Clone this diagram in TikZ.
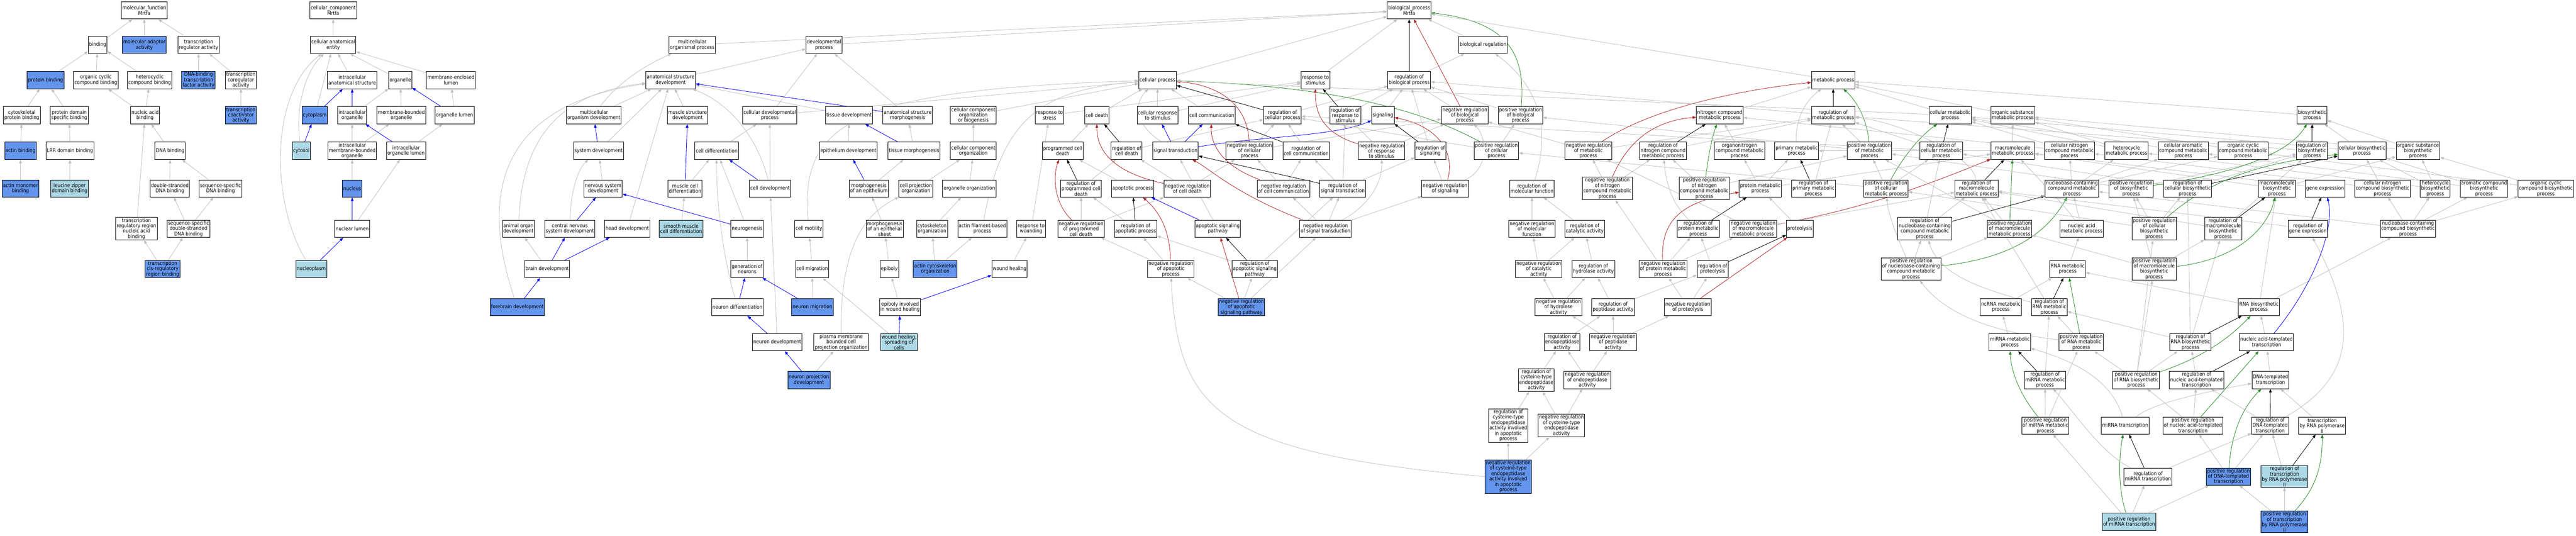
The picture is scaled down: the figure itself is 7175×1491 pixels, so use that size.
\documentclass[tikz,border=0pt]{standalone}
\usepackage{fontspec}
\setmainfont{DejaVu Sans}[FakeStretch=0.88]
\usetikzlibrary{arrows.meta,backgrounds}
\definecolor{edgegray}{RGB}{192,192,192}
\definecolor{cfblue}{RGB}{100,149,237}
\definecolor{ltblue}{RGB}{173,216,230}
\definecolor{fbred}{RGB}{178,34,34}
\definecolor{fgreen}{RGB}{34,139,34}
\tikzset{
  gobox/.style={draw=black, line width=1.4pt, fill=white, align=center, inner xsep=2.5pt, inner ysep=2pt, minimum height=48pt, font=\fontsize{14.5}{15}\selectfont},
  gohit/.style={gobox, fill=cfblue},
  golight/.style={gobox, fill=ltblue},
  edgebase/.style={line width=1.2pt, -{Triangle[length=10pt,width=7.5pt]}},
  eg/.style={edgebase, draw=edgegray},
  eb/.style={edgebase, draw=blue},
  er/.style={edgebase, draw=fbred},
  egr/.style={edgebase, draw=fgreen},
  ek/.style={edgebase, draw=black}
}
\begin{document}
\begin{tikzpicture}[x=1pt,y=-1pt]
\useasboundingbox (0,0) rectangle (7175,1491);
% ---------------- molecular function
\node[gobox] (mf) at (402,29) {molecular\_function\\Mrtfa};
\node[gobox] (binding) at (272,125) {binding};
\node[gohit] (mad) at (402,125) {molecular adaptor\\activity};
\node[gobox] (tra) at (553,125) {transcription\\regulator activity};
\node[gohit] (pbind) at (127,223) {protein binding};
\node[gobox] (occb) at (267,223) {organic cyclic\\compound binding};
\node[gobox] (hccb) at (417,223) {heterocyclic\\compound binding};
\node[gohit] (dbtf) at (553,223) {DNA-binding\\transcription\\factor activity};
\node[gobox] (tcoreg) at (671,223) {transcription\\coregulator\\activity};
\node[gobox] (cpb) at (61,321) {cytoskeletal\\protein binding};
\node[gobox] (pdsb) at (193,321) {protein domain\\specific binding};
\node[gobox] (nab) at (404,321) {nucleic acid\\binding};
\node[gohit] (tcoact) at (671,321) {transcription\\coactivator\\activity};
\node[gohit] (actb) at (57,420) {actin binding};
\node[gobox] (lrr) at (195,420) {LRR domain binding};
\node[gobox] (dnab) at (474,420) {DNA binding};
\node[gohit] (amb) at (57,525) {actin monomer\\binding};
\node[golight] (lzd) at (194,525) {leucine zipper\\domain binding};
\node[gobox] (dsdna) at (473,525) {double-stranded\\DNA binding};
\node[gobox] (ssdna) at (614,525) {sequence-specific\\DNA binding};
\node[gobox] (trr) at (380,637) {transcription\\regulatory region\\nucleic acid\\binding};
\node[gobox] (ssds) at (525,637) {sequence-specific\\double-stranded\\DNA binding};
\node[gohit] (cis) at (453,749) {transcription\\cis-regulatory\\region binding};
% ---------------- cellular component
\node[gobox] (cc) at (928,29) {cellular\_component\\Mrtfa};
\node[gobox] (cae) at (928,125) {cellular anatomical\\entity};
\node[gobox] (ias) at (981,223) {intracellular\\anatomical structure};
\node[gobox] (org) at (1115,223) {organelle};
\node[gobox] (mel) at (1256,223) {membrane-enclosed\\lumen};
\node[gohit] (cyto) at (877,321) {cytoplasm};
\node[gobox] (iorg) at (981,321) {intracellular\\organelle};
\node[gobox] (mbo) at (1118,321) {membrane-bounded\\organelle};
\node[gobox] (olum) at (1266,321) {organelle lumen};
\node[golight] (cytosol) at (839,420) {cytosol};
\node[gobox] (imbo) at (981,420) {intracellular\\membrane-bounded\\organelle};
\node[gobox] (iol) at (1131,420) {intracellular\\organelle lumen};
\node[gohit] (nucleus) at (981,525) {nucleus};
\node[gobox] (nlum) at (981,637) {nuclear lumen};
\node[golight] (nplasm) at (867,749) {nucleoplasm};
% ---------------- biological process rows
\node[gobox] (bp) at (3925,29) {biological\_process\\Mrtfa};
\node[gobox] (mop) at (1928,125) {multicellular\\organismal process};
\node[gobox] (dp) at (2295,125) {developmental\\process};
\node[gobox] (breg) at (4131,125) {biological regulation};
% R2
\node[gobox] (asd) at (1868,223) {anatomical structure\\development};
\node[gobox] (cp) at (3224,223) {cellular process};
\node[gobox] (rts) at (3664,223) {response to\\stimulus};
\node[gobox] (rbp) at (3925,223) {regulation of\\biological process};
\node[gobox] (mp) at (5106,223) {metabolic process};
% R3
\node[gobox] (mod) at (1654,321) {multicellular\\organism development};
\node[gobox] (msd) at (1915,321) {muscle structure\\development};
\node[gobox] (cdp) at (2144,321) {cellular developmental\\process};
\node[gobox] (td) at (2365,321) {tissue development};
\node[gobox] (asm) at (2528,321) {anatomical structure\\morphogenesis};
\node[gobox] (ccob) at (2711,321) {cellular component\\organization\\or biogenesis};
\node[gobox] (rstress) at (2923,321) {response to\\stress};
\node[gobox] (cd) at (3055,321) {cell death};
\node[gobox] (crs) at (3224,321) {cellular response\\to stimulus};
\node[gobox] (ccom) at (3375,321) {cell communication};
\node[gobox] (rcp) at (3572,321) {regulation of\\cellular process};
\node[gobox] (rrs) at (3747,321) {regulation of\\response to\\stimulus};
\node[gobox] (sig) at (3852,321) {signaling};
\node[gobox] (nrbp) at (4080,321) {negative regulation\\of biological\\process};
\node[gobox] (prbp) at (4235,321) {positive regulation\\of biological\\process};
\node[gobox] (ncmp) at (4790,321) {nitrogen compound\\metabolic process};
\node[gobox] (rmp) at (5106,321) {regulation of\\metabolic process};
\node[gobox] (cmp) at (5432,321) {cellular metabolic\\process};
\node[gobox] (osmp) at (5606,321) {organic substance\\metabolic process};
\node[gobox] (bsp) at (6440,321) {biosynthetic\\process};
% R4
\node[gobox] (sysd) at (1667,420) {system development};
\node[gobox] (celldiff) at (1996,420) {cell differentiation};
\node[gobox] (epid) at (2363,420) {epithelium development};
\node[gobox] (tm) at (2546,420) {tissue morphogenesis};
\node[gobox] (cco) at (2711,420) {cellular component\\organization};
\node[gobox] (pcd) at (2960,420) {programmed cell\\death};
\node[gobox] (rcd) at (3138,420) {regulation of\\cell death};
\node[gobox] (st) at (3274,420) {signal transduction};
\node[gobox] (nrcp) at (3480,420) {negative regulation\\of cellular\\process};
\node[gobox] (rcc) at (3638,420) {regulation of\\cell communication};
\node[gobox] (nrrs) at (3848,420) {negative regulation\\of response\\to stimulus};
\node[gobox] (rsig) at (3984,420) {regulation of\\signaling};
\node[gobox] (prcp) at (4168,420) {positive regulation\\of cellular\\process};
\node[gobox] (nrmp) at (4424,420) {negative regulation\\of metabolic\\process};
\node[gobox] (rncmp) at (4632,420) {regulation of\\nitrogen compound\\metabolic process};
\node[gobox] (oncmp) at (4845,420) {organonitrogen\\compound metabolic\\process};
\node[gobox] (pmp) at (5004,420) {primary metabolic\\process};
\node[gobox] (prmp) at (5207,420) {positive regulation\\of metabolic\\process};
\node[gobox] (rcmp) at (5407,420) {regulation of\\cellular metabolic\\process};
\node[gobox] (mmp) at (5606,420) {macromolecule\\metabolic process};
\node[gobox] (cncmp) at (5764,420) {cellular nitrogen\\compound metabolic\\process};
\node[gobox] (hmp) at (5923,420) {heterocycle\\metabolic process};
\node[gobox] (camp) at (6081,420) {cellular aromatic\\compound metabolic\\process};
\node[gobox] (occmp) at (6248,420) {organic cyclic\\compound metabolic\\process};
\node[gobox] (rbsp) at (6440,420) {regulation of\\biosynthetic\\process};
\node[gobox] (cbsp) at (6579,420) {cellular biosynthetic\\process};
\node[gobox] (osbp) at (6735,420) {organic substance\\biosynthetic\\process};
% R5
\node[gobox] (nsd) at (1680,525) {nervous system\\development};
\node[gobox] (mcd) at (1908,525) {muscle cell\\differentiation};
\node[gobox] (celldev) at (2145,525) {cell development};
\node[gobox] (moe) at (2420,525) {morphogenesis\\of an epithelium};
\node[gobox] (cpo) at (2551,525) {cell projection\\organization};
\node[gobox] (oo) at (2700,525) {organelle organization};
\node[gobox] (rpcd) at (3011,525) {regulation of\\programmed cell\\death};
\node[gobox] (ap) at (3155,525) {apoptotic process};
\node[gobox] (nrcd) at (3307,525) {negative regulation\\of cell death};
\node[gobox] (nrcc) at (3575,525) {negative regulation\\of cell communication};
\node[gobox] (rst) at (3740,525) {regulation of\\signal transduction};
\node[gobox] (nrsig) at (4025,525) {negative regulation\\of signaling};
\node[gobox] (rmf) at (4267,525) {regulation of\\molecular function};
\node[gobox] (nrncmp) at (4477,525) {negative regulation\\of nitrogen\\compound metabolic\\process};
\node[gobox] (prncmp) at (4747,525) {positive regulation\\of nitrogen\\compound metabolic\\process};
\node[gobox] (protmp) at (4903,525) {protein metabolic\\process};
\node[gobox] (rpmp) at (5051,525) {regulation of\\primary metabolic\\process};
\node[gobox] (prcmp) at (5253,525) {positive regulation\\of cellular\\metabolic process};
\node[gobox] (rmmp) at (5505,525) {regulation of\\macromolecule\\metabolic process};
\node[gobox] (nccmp) at (5771,525) {nucleobase-containing\\compound metabolic\\process};
\node[gobox] (prbsp) at (5936,525) {positive regulation\\of biosynthetic\\process};
\node[gobox] (rcbsp) at (6093,525) {regulation of\\cellular biosynthetic\\process};
\node[gobox] (mbsp) at (6342,525) {macromolecule\\biosynthetic\\process};
\node[gobox] (ge) at (6476,525) {gene expression};
\node[gobox] (cncbp) at (6636,525) {cellular nitrogen\\compound biosynthetic\\process};
\node[gobox] (hbp) at (6783,525) {heterocycle\\biosynthetic\\process};
\node[gobox] (acbp) at (6919,525) {aromatic compound\\biosynthetic\\process};
\node[gobox] (occbp) at (7091,525) {organic cyclic\\compound biosynthetic\\process};
% R6
\node[gobox] (aod) at (1444,637) {animal organ\\development};
\node[gobox] (cnsd) at (1587,637) {central nervous\\system development};
\node[gobox] (hd) at (1747,637) {head development};
\node[golight] (smcd) at (1897,637) {smooth muscle\\cell differentiation};
\node[gobox] (neurog) at (2081,637) {neurogenesis};
\node[gobox] (cmot) at (2253,637) {cell motility};
\node[gobox] (moes) at (2464,637) {morphogenesis\\of an epithelial\\sheet};
\node[gobox] (cso) at (2596,637) {cytoskeleton\\organization};
\node[gobox] (afbp) at (2736,637) {actin filament-based\\process};
\node[gobox] (rtw) at (2872,637) {response to\\wounding};
\node[gobox] (nrpcd) at (3011,637) {negative regulation\\of programmed\\cell death};
\node[gobox] (rap) at (3163,637) {regulation of\\apoptotic process};
\node[gobox] (asp) at (3392,637) {apoptotic signaling\\pathway};
\node[gobox] (nrst) at (3692,637) {negative regulation\\of signal transduction};
\node[gobox] (nrmf) at (4267,637) {negative regulation\\of molecular\\function};
\node[gobox] (rca) at (4414,637) {regulation of\\catalytic activity};
\node[gobox] (rprotmp) at (4730,637) {regulation of\\protein metabolic\\process};
\node[gobox] (nrmmp) at (4883,637) {negative regulation\\of macromolecule\\metabolic process};
\node[gobox] (proteol) at (5013,637) {proteolysis};
\node[gobox] (rnccmp) at (5361,637) {regulation of\\nucleobase-containing\\compound metabolic\\process};
\node[gobox] (prmmp) at (5597,637) {positive regulation\\of macromolecule\\metabolic process};
\node[gobox] (namp) at (5798,637) {nucleic acid\\metabolic process};
\node[gobox] (prcbsp) at (6000,637) {positive regulation\\of cellular\\biosynthetic\\process};
\node[gobox] (rmbsp) at (6192,637) {regulation of\\macromolecule\\biosynthetic\\process};
\node[gobox] (rge) at (6428,637) {regulation of\\gene expression};
\node[gobox] (nccbp) at (6707,637) {nucleobase-containing\\compound biosynthetic\\process};
% R7
\node[gobox] (bd) at (1524,749) {brain development};
\node[gobox] (gon) at (2081,749) {generation of\\neurons};
\node[gobox] (cmig) at (2262,749) {cell migration};
\node[gobox] (epib) at (2477,749) {epiboly};
\node[gohit] (acso) at (2605,749) {actin cytoskeleton\\organization};
\node[gobox] (wh) at (2812,749) {wound healing};
\node[gobox] (nrap) at (3261,749) {negative regulation\\of apoptotic\\process};
\node[gobox] (rasp) at (3495,749) {regulation of\\apoptotic signaling\\pathway};
\node[gobox] (nrca) at (4286,749) {negative regulation\\of catalytic\\activity};
\node[gobox] (rha) at (4438,749) {regulation of\\hydrolase activity};
\node[gobox] (nrprotmp) at (4632,749) {negative regulation\\of protein metabolic\\process};
\node[gobox] (rproteol) at (4770,749) {regulation of\\proteolysis};
\node[gobox] (prnccmp) at (5323,749) {positive regulation\\of nucleobase-containing\\compound metabolic\\process};
\node[gobox] (rnamp) at (5759,749) {RNA metabolic\\process};
\node[gobox] (prmbsp) at (6000,749) {positive regulation\\of macromolecule\\biosynthetic\\process};
% R8
\node[gohit] (fbd) at (1441,855) {forebrain development};
\node[gobox] (nd) at (2054,855) {neuron differentiation};
\node[gohit] (nm) at (2263,855) {neuron migration};
\node[gobox] (ebwh) at (2507,855) {epiboly involved\\in wound healing};
\node[gohit] (nrasp) at (3458,855) {negative regulation\\of apoptotic\\signaling pathway};
\node[gobox] (nrha) at (4341,855) {negative regulation\\of hydrolase\\activity};
\node[gobox] (rpa) at (4493,855) {regulation of\\peptidase activity};
\node[gobox] (nrproteol) at (4701,855) {negative regulation\\of proteolysis};
\node[gobox] (ncrna) at (5573,855) {ncRNA metabolic\\process};
\node[gobox] (rrnamp) at (5708,855) {regulation of\\RNA metabolic\\process};
\node[gobox] (rnabsp) at (6292,855) {RNA biosynthetic\\process};
% R9
\node[gobox] (ndev) at (2165,953) {neuron development};
\node[gobox] (pmbcpo) at (2343,953) {plasma membrane\\bounded cell\\projection organization};
\node[golight] (whsc) at (2504,953) {wound healing,\\spreading of\\cells};
\node[gobox] (rea) at (4351,953) {regulation of\\endopeptidase\\activity};
\node[gobox] (nrpa) at (4493,953) {negative regulation\\of peptidase\\activity};
\node[gobox] (mirnamp) at (5598,953) {miRNA metabolic\\process};
\node[gobox] (prrnamp) at (5797,953) {positive regulation\\of RNA metabolic\\process};
\node[gobox] (rrnabsp) at (6101,953) {regulation of\\RNA biosynthetic\\process};
\node[gobox] (natt) at (6313,953) {nucleic acid-templated\\transcription};
% R10
\node[gohit] (npd) at (2253,1058) {neuron projection\\development};
\node[gobox] (rcea) at (4279,1058) {regulation of\\cysteine-type\\endopeptidase\\activity};
\node[gobox] (nrea) at (4421,1058) {negative regulation\\of endopeptidase\\activity};
\node[gobox] (rmirnamp) at (5696,1058) {regulation of\\miRNA metabolic\\process};
\node[gobox] (prrnabsp) at (5950,1058) {positive regulation\\of RNA biosynthetic\\process};
\node[gobox] (rnatt) at (6118,1058) {regulation of\\nucleic acid-templated\\transcription};
\node[gobox] (dtt) at (6324,1058) {DNA-templated\\transcription};
% R11
\node[gobox] (rceaiap) at (4201,1185) {regulation of\\cysteine-type\\endopeptidase\\activity involved\\in apoptotic\\process};
\node[gobox] (nrcea) at (4349,1185) {negative regulation\\of cysteine-type\\endopeptidase\\activity};
\node[gobox] (prmirnamp) at (5697,1185) {positive regulation\\of miRNA metabolic\\process};
\node[gobox] (mirnat) at (5919,1185) {miRNA transcription};
\node[gobox] (prnatt) at (6108,1185) {positive regulation\\of nucleic acid-templated\\transcription};
\node[gobox] (rdtt) at (6323,1185) {regulation of\\DNA-templated\\transcription};
\node[gobox] (trnap) at (6468,1185) {transcription\\by RNA polymerase\\II};
% R12
\node[gohit] (nrceaiap) at (4201,1327) {negative regulation\\of cysteine-type\\endopeptidase\\activity involved\\in apoptotic\\process};
\node[gobox] (rmirnat) at (5983,1327) {regulation of\\miRNA transcription};
\node[gohit] (prdtt) at (6207,1327) {positive regulation\\of DNA-templated\\transcription};
\node[golight] (rtrnap) at (6363,1327) {regulation of\\transcription\\by RNA polymerase\\II};
% R13
\node[golight] (prmirnat) at (5930,1453) {positive regulation\\of miRNA transcription};
\node[gohit] (prtrnap) at (6363,1453) {positive regulation\\of transcription\\by RNA polymerase\\II};

\begin{scope}[on background layer]
% ---- MF
\draw[eg] (binding) -- (mf); \draw[eg] (mad) -- (mf); \draw[eg] (tra) -- (mf);
\draw[eg] (pbind) -- (binding); \draw[eg] (occb) -- (binding); \draw[eg] (hccb) -- (binding);
\draw[eg] (dbtf) -- (tra); \draw[eg] (tcoreg) -- (tra); \draw[eg] (tcoact) -- (tcoreg);
\draw[eg] (cpb) -- (pbind); \draw[eg] (pdsb) -- (pbind);
\draw[eg] (nab) -- (occb); \draw[eg] (nab) -- (hccb);
\draw[eg] (actb) -- (cpb); \draw[eg] (lrr) -- (pdsb); \draw[eg] (amb) -- (actb); \draw[eg] (lzd) -- (lrr);
\draw[eg] (dnab) -- (nab); \draw[eg] (dsdna) -- (dnab); \draw[eg] (ssdna) -- (dnab);
\draw[eg] (trr) -- (nab); \draw[eg] (ssds) -- (dsdna); \draw[eg] (ssds) -- (ssdna);
\draw[eg] (cis) -- (trr); \draw[eg] (cis) -- (ssds);
% ---- CC
\draw[eg] (cae) -- (cc); \draw[eg] (ias) -- (cae); \draw[eg] (org) -- (cae); \draw[eg] (mel) -- (cae);
\draw[eg] (cyto) -- (cae);
\draw[eg] (cytosol) .. controls (822,300) and (850,200) .. (cae);
\draw[eg] (nplasm) .. controls (752,560) and (752,260) .. (cae);
\draw[eg] (iorg) -- (org); \draw[eg] (mbo) -- (org); \draw[eg] (imbo) -- (iorg); \draw[eg] (imbo) -- (mbo);
\draw[eg] (olum) -- (mel); \draw[eg] (iol) -- (olum); \draw[eg] (nucleus) -- (imbo); \draw[eg] (nlum) -- (iol);
\draw[eb] (cyto) -- (ias); \draw[eb] (cytosol) -- (cyto); \draw[eb] (iorg) -- (ias); \draw[eb] (olum) -- (org);
\draw[eb] (iol) -- (iorg); \draw[eb] (nlum) -- (nucleus); \draw[eb] (nplasm) -- (nlum);
% ---- development
\draw[eg] (mop) -- (bp); \draw[eg] (dp) -- (bp);
\draw[eg] (mod) .. controls (1720,230) and (1800,180) .. (mop);
\draw[eg] (asd) -- (dp); \draw[eg] (mod) -- (asd); \draw[eg] (sysd) -- (asd); \draw[eg] (msd) -- (asd);
\draw[eg] (celldev) .. controls (2120,420) and (2060,300) .. (asd);
\draw[eg] (hd) -- (asd);
\draw[eg] (aod) .. controls (1455,380) and (1560,260) .. (asd);
\draw[eg] (fbd) .. controls (1355,600) and (1340,300) .. (asd);
\draw[eg] (td) -- (asd); \draw[eg] (asm) -- (dp); \draw[eg] (cdp) -- (dp); \draw[eg] (cdp) -- (cp);
\draw[eg] (cmot) .. controls (2225,330) and (2400,250) .. (cp);
\draw[eg] (celldiff) -- (cdp); \draw[eg] (celldev) -- (cdp); \draw[eg] (mcd) -- (celldiff);
\draw[eg] (smcd) -- (mcd); \draw[eg] (neurog) -- (celldiff); \draw[eg] (gon) -- (neurog);
\draw[eg] (nd) .. controls (2010,700) and (1995,550) .. (celldiff);
\draw[eg] (ndev) -- (celldev); \draw[eg] (nm) -- (cmig); \draw[eg] (cmig) -- (cmot); \draw[eg] (whsc) -- (cmig);
\draw[eg] (nsd) -- (sysd);
\draw[eg] (cnsd) .. controls (1590,530) and (1610,470) .. (sysd);
\draw[eg] (bd) -- (aod); \draw[eg] (npd) -- (pmbcpo);
\draw[eg] (pmbcpo) .. controls (2340,700) and (2400,600) .. (cpo);
\draw[eg] (epid) -- (td); \draw[eg] (tm) -- (asm); \draw[eg] (moe) -- (tm); \draw[eg] (moes) -- (moe);
\draw[eg] (epib) -- (moes); \draw[eg] (ebwh) -- (epib);
\draw[eg] (cpo) -- (cco); \draw[eg] (oo) -- (cco); \draw[eg] (cco) -- (ccob); \draw[eg] (ccob) -- (cp);
\draw[eg] (cso) -- (oo); \draw[eg] (acso) -- (cso); \draw[eg] (acso) -- (afbp);
\draw[eg] (afbp) .. controls (2790,330) and (2900,250) .. (cp);
\draw[eg] (rtw) -- (rstress); \draw[eg] (rstress) -- (rts); \draw[eg] (wh) -- (rtw);
\draw[eb] (sysd) -- (mod); \draw[eb] (mcd) -- (msd); \draw[eb] (celldev) -- (celldiff); \draw[eb] (neurog) -- (nsd);
\draw[eb] (cnsd) -- (nsd); \draw[eb] (bd) -- (cnsd); \draw[eb] (bd) -- (hd); \draw[eb] (fbd) -- (bd);
\draw[eb] (nd) -- (gon); \draw[eb] (nm) -- (gon); \draw[eb] (ndev) -- (nd); \draw[eb] (npd) -- (ndev);
\draw[eb] (asm) -- (asd); \draw[eb] (moe) -- (epid); \draw[eb] (tm) -- (td); \draw[eb] (ebwh) -- (wh); \draw[eb] (whsc) -- (ebwh);
% ---- cellular process block
\draw[eg] (cp) -- (bp); \draw[eg] (cd) -- (cp); \draw[eg] (crs) -- (cp); \draw[eg] (crs) -- (rts); \draw[eg] (ccom) -- (cp);
\draw[eg] (st) .. controls (3150,340) and (3165,280) .. (cp);
\draw[eg] (pcd) -- (cd); \draw[eg] (rcd) -- (rcp); \draw[eg] (nrcd) -- (rcd); \draw[eg] (nrcd) -- (nrcp);
\draw[eg] (nrcp) -- (rcp); \draw[eg] (nrcp) -- (nrbp); \draw[eg] (rcp) -- (rbp);
\draw[eg] (rpcd) -- (rcd); \draw[eg] (ap) -- (pcd); \draw[eg] (nrpcd) -- (rpcd); \draw[eg] (nrpcd) -- (nrcd);
\draw[eg] (rap) -- (rpcd); \draw[eg] (asp) -- (st); \draw[eg] (nrap) -- (nrpcd); \draw[eg] (nrap) -- (rap);
\draw[eg] (rasp) -- (rap); \draw[eg] (rasp) -- (rst); \draw[eg] (nrcc) -- (rcc); \draw[eg] (nrcc) -- (nrcp);
\draw[eg] (nrasp) -- (nrap); \draw[eg] (nrasp) -- (rasp); \draw[eg] (nrasp) -- (nrst);
\draw[eg] (nrceaiap.west) .. controls (3400,1260) and (3280,1150) .. (nrap);
\draw[ek] (rcd) -- (cd); \draw[ek] (rcp) -- (cp); \draw[ek] (rpcd) -- (pcd); \draw[ek] (rap) -- (ap);
\draw[ek] (rasp) -- (asp); \draw[ek] (rst) -- (st); \draw[ek] (rcc) -- (ccom);
\draw[er] (nrcd) .. controls (3100,480) and (3055,420) .. (cd);
\draw[er] (nrcp) .. controls (3475,280) and (3380,235) .. (cp);
\draw[er] (nrpcd) .. controls (2930,560) and (2935,480) .. (pcd);
\draw[er] (nrap) .. controls (3258,640) and (3230,590) .. (ap);
\draw[er] (nrasp) -- (asp);
\draw[er] (nrcc) .. controls (3400,460) and (3372,400) .. (ccom);
\draw[er] (nrst) .. controls (3440,540) and (3370,470) .. (st);
\draw[eb] (st) -- (ccom); \draw[eb] (st) -- (crs);
\draw[eb] (st) .. controls (3500,380) and (3720,380) .. (sig);
\draw[eb] (asp) -- (ap);
\draw[egr] (prcp) .. controls (3950,300) and (3700,240) .. (cp);
% ---- regulation
\draw[eg] (rts) -- (bp); \draw[eg] (rbp) -- (breg); \draw[eg] (breg) -- (bp);
\draw[eg] (nrbp) -- (rbp); \draw[eg] (prbp) -- (rbp); \draw[eg] (rrs) -- (rbp); \draw[eg] (sig) -- (rbp); \draw[eg] (rsig) -- (rbp);
\draw[eg] (rcc) -- (rcp); \draw[eg] (nrrs) -- (rrs); \draw[eg] (nrrs) -- (nrbp); \draw[eg] (nrsig) -- (rsig);
\draw[eg] (nrsig) .. controls (4150,470) and (4140,380) .. (nrbp);
\draw[eg] (prcp) -- (prbp); \draw[eg] (prcp) -- (rcp);
\draw[eg] (rst) -- (rcc); \draw[eg] (rst) -- (rsig); \draw[eg] (rst) -- (rrs);
\draw[eg] (nrst) -- (rst); \draw[eg] (nrst) -- (nrcc); \draw[eg] (nrst) -- (nrsig);
\draw[eg] (nrst) .. controls (3800,580) and (3850,520) .. (nrrs);
\draw[eg] (rmf) .. controls (4330,330) and (4260,220) .. (breg);
\draw[eg] (nrmf) -- (rmf); \draw[eg] (rca) -- (rmf); \draw[eg] (nrca) -- (nrmf); \draw[eg] (nrca) -- (rca); \draw[eg] (rha) -- (rca);
\draw[eg] (nrmp) -- (nrbp); \draw[eg] (nrmp) -- (rmp); \draw[eg] (rncmp) -- (rmp);
\draw[eg] (nrncmp) -- (nrmp); \draw[eg] (nrncmp) -- (rncmp); \draw[eg] (prncmp) -- (rncmp); \draw[eg] (prncmp) -- (prmp);
\draw[eg] (rprotmp) .. controls (4650,560) and (4640,500) .. (rncmp);
\draw[eg] (nrprotmp) -- (rprotmp); \draw[eg] (nrprotmp) -- (nrncmp); \draw[eg] (nrprotmp) -- (nrmmp);
\draw[eg] (rproteol) -- (rprotmp); \draw[eg] (nrproteol) -- (rproteol); \draw[eg] (nrproteol) -- (nrprotmp);
\draw[eg] (nrha) -- (rha); \draw[eg] (nrha) -- (nrca); \draw[eg] (rpa) -- (rha); \draw[eg] (rpa) -- (rproteol);
\draw[eg] (rea) -- (rpa); \draw[eg] (nrpa) -- (rpa); \draw[eg] (nrpa) -- (nrha); \draw[eg] (nrpa) -- (nrproteol);
\draw[eg] (rcea) -- (rea); \draw[eg] (nrea) -- (rea); \draw[eg] (nrea) -- (nrpa);
\draw[eg] (rceaiap) -- (rcea); \draw[eg] (nrcea) -- (rcea); \draw[eg] (nrcea) -- (nrea);
\draw[eg] (nrceaiap) -- (rceaiap); \draw[eg] (nrceaiap) -- (nrcea);
\draw[eg] (rmp) -- (rbp); \draw[eg] (prmp) -- (prbp);
\draw[ek] (rbp) -- (bp); \draw[ek] (rrs) -- (rts); \draw[ek] (rsig) -- (sig); \draw[ek] (rncmp) -- (ncmp);
\draw[ek] (rprotmp) -- (protmp); \draw[ek] (rproteol) -- (proteol); \draw[ek] (rmp) -- (mp);
\draw[er] (nrbp) -- (bp);
\draw[er] (nrrs) .. controls (3680,370) and (3663,310) .. (rts);
\draw[er] (nrsig) .. controls (4055,420) and (4000,350) .. (sig);
\draw[er] (nrmp) .. controls (4600,300) and (4850,250) .. (mp);
\draw[er] (nrncmp) .. controls (4540,380) and (4620,335) .. (ncmp);
\draw[er] (nrprotmp) .. controls (4625,600) and (4700,560) .. (protmp);
\draw[er] (nrproteol) -- (proteol);
\draw[er] (nrmmp) .. controls (5250,570) and (5450,480) .. (mmp);
\draw[egr] (prbp) .. controls (4250,150) and (4200,60) .. (bp);
\draw[egr] (prncmp) .. controls (4760,420) and (4770,380) .. (ncmp);
\draw[egr] (prmp) .. controls (5200,320) and (5160,270) .. (mp);
\draw[egr] (prcmp) .. controls (5310,420) and (5360,370) .. (cmp);
\draw[egr] (prmmp) -- (mmp);
\draw[egr] (prnccmp) .. controls (5600,720) and (5700,650) .. (nccmp);
% ---- metabolism
\draw[eg] (mp) -- (bp); \draw[eg] (ncmp) -- (mp); \draw[eg] (pmp) .. controls (5000,330) and (5030,280) .. (mp);
\draw[eg] (cmp) -- (mp); \draw[eg] (osmp) -- (mp); \draw[eg] (cmp) -- (cp);
\draw[eg] (prmp) -- (rmp); \draw[eg] (rcmp) -- (rmp); \draw[eg] (rcmp) -- (rcp);
\draw[eg] (mmp) -- (osmp); \draw[eg] (mmp) -- (pmp); \draw[eg] (cncmp) -- (cmp); \draw[eg] (cncmp) -- (ncmp);
\draw[eg] (hmp) -- (cmp); \draw[eg] (hmp) -- (osmp); \draw[eg] (camp) -- (cmp); \draw[eg] (occmp) -- (osmp);
\draw[eg] (oncmp) -- (ncmp); \draw[eg] (protmp) -- (oncmp); \draw[eg] (protmp) -- (mmp); \draw[eg] (protmp) -- (pmp);
\draw[eg] (rpmp) -- (rmp); \draw[eg] (prcmp) -- (rcmp); \draw[eg] (prcmp) -- (prmp); \draw[eg] (prcmp) -- (prcp);
\draw[eg] (rmmp) .. controls (5500,440) and (5300,340) .. (rmp);
\draw[eg] (nrmmp) -- (rmmp); \draw[eg] (nrmmp) -- (nrmp); \draw[eg] (prmmp) -- (rmmp); \draw[eg] (prmmp) -- (prmp);
\draw[eg] (nccmp) -- (cncmp); \draw[eg] (nccmp) -- (hmp); \draw[eg] (nccmp) -- (camp); \draw[eg] (nccmp) -- (occmp);
\draw[eg] (rnccmp) -- (rcmp); \draw[eg] (rnccmp) -- (rmmp);
\draw[eg] (prnccmp) -- (rnccmp); \draw[eg] (prnccmp) .. controls (5280,650) and (5260,600) .. (prcmp); \draw[eg] (prnccmp) -- (prmmp);
\draw[eg] (namp) -- (nccmp); \draw[eg] (namp) .. controls (5740,560) and (5680,500) .. (mmp); \draw[eg] (rnamp) -- (namp);
\draw[eg] (proteol) -- (protmp);
\draw[ek] (rcmp) -- (cmp); \draw[ek] (rpmp) -- (pmp); \draw[ek] (rmmp) -- (mmp); \draw[ek] (rnccmp) -- (nccmp);
% ---- biosynthesis
\draw[eg] (bsp) -- (mp); \draw[eg] (rbsp) -- (rmp); \draw[eg] (cbsp) -- (bsp); \draw[eg] (cbsp) -- (cmp);
\draw[eg] (osbp) -- (bsp); \draw[eg] (osbp) -- (osmp);
\draw[eg] (prbsp) -- (rbsp); \draw[eg] (prbsp) -- (prmp); \draw[eg] (rcbsp) -- (rbsp); \draw[eg] (rcbsp) -- (rcmp);
\draw[eg] (prcbsp) -- (rcbsp); \draw[eg] (prcbsp) -- (prbsp); \draw[eg] (prcbsp) -- (prcmp);
\draw[eg] (mbsp) -- (mmp); \draw[eg] (mbsp) -- (osbp);
\draw[eg] (rmbsp) -- (rbsp); \draw[eg] (rmbsp) -- (rmmp);
\draw[eg] (prmbsp) -- (rmbsp); \draw[eg] (prmbsp) -- (prbsp); \draw[eg] (prmbsp) -- (prmmp);
\draw[eg] (ge) -- (mmp); \draw[eg] (rge) -- (rmmp);
\draw[eg] (cncbp) -- (cbsp); \draw[eg] (cncbp) -- (cncmp);
\draw[eg] (hbp) -- (hmp); \draw[eg] (hbp) -- (cbsp); \draw[eg] (hbp) -- (osbp);
\draw[eg] (acbp) -- (camp); \draw[eg] (acbp) -- (cbsp);
\draw[eg] (occbp) -- (occmp); \draw[eg] (occbp) -- (osbp);
\draw[eg] (nccbp) -- (cncbp); \draw[eg] (nccbp) -- (hbp); \draw[eg] (nccbp) -- (acbp); \draw[eg] (nccbp) -- (occbp); \draw[eg] (nccbp) -- (nccmp);
\draw[eg] (rnabsp) -- (nccbp); \draw[eg] (rnabsp) -- (mbsp); \draw[eg] (rnabsp) -- (rnamp);
\draw[eg] (rrnabsp) -- (rcbsp); \draw[eg] (rrnabsp) -- (rmbsp); \draw[eg] (rrnabsp) -- (rrnamp);
\draw[eg] (natt) -- (rnabsp); \draw[eg] (rnatt) -- (rrnabsp);
\draw[eg] (rdtt) -- (rnatt);
\draw[eg] (rdtt) .. controls (6560,1050) and (6570,900) .. (rge);
\draw[eg] (dtt) -- (natt); \draw[eg] (trnap) -- (dtt);
\draw[eg] (prrnabsp) -- (rrnabsp); \draw[eg] (prrnabsp) -- (prmbsp); \draw[eg] (prrnabsp) -- (prrnamp); \draw[eg] (prrnabsp) -- (prcbsp);
\draw[eg] (prnatt) -- (rnatt); \draw[eg] (prnatt) -- (prrnabsp);
\draw[eg] (prdtt) -- (rdtt); \draw[eg] (prdtt) -- (prnatt);
\draw[eg] (rtrnap) -- (rdtt); \draw[eg] (prtrnap) -- (prdtt); \draw[eg] (prtrnap) -- (rtrnap);
\draw[eg] (mirnat) .. controls (6000,1120) and (6150,1090) .. (dtt);
\draw[eg] (rmirnat) -- (rdtt); \draw[eg] (prmirnat) -- (prdtt); \draw[eg] (prmirnat) -- (rmirnat);
\draw[eg] (prmirnat) -- (prmirnamp);
\draw[ek] (rbsp) -- (bsp); \draw[ek] (rcbsp) -- (cbsp); \draw[ek] (rmbsp) -- (mbsp); \draw[ek] (rge) -- (ge);
\draw[ek] (rrnabsp) -- (rnabsp); \draw[ek] (rnatt) -- (natt); \draw[ek] (rdtt) -- (dtt); \draw[ek] (rtrnap) -- (trnap);
\draw[ek] (rmirnat) -- (mirnat);
\draw[egr] (prbsp) .. controls (6250,480) and (6380,420) .. (bsp);
\draw[egr] (prcbsp) .. controls (6200,460) and (6400,445) .. (cbsp);
\draw[egr] (prmbsp) .. controls (6250,720) and (6320,620) .. (mbsp);
\draw[egr] (prrnabsp) .. controls (6150,990) and (6220,930) .. (rnabsp);
\draw[egr] (prnatt) -- (natt);
\draw[egr] (prdtt) .. controls (6215,1200) and (6250,1130) .. (dtt);
\draw[egr] (prtrnap) .. controls (6460,1350) and (6468,1280) .. (trnap);
\draw[egr] (prmirnat) .. controls (5895,1350) and (5905,1250) .. (mirnat);
\draw[eb] (natt) .. controls (6440,800) and (6505,640) .. (ge);
% ---- RNA metabolism
\draw[eg] (ncrna) -- (rnamp); \draw[eg] (rrnamp) .. controls (5500,800) and (5400,760) .. (rnccmp); \draw[eg] (rrnamp) -- (rmmp);
\draw[eg] (mirnamp) -- (ncrna); \draw[eg] (prrnamp) -- (rrnamp);
\draw[eg] (prrnamp) .. controls (5500,920) and (5400,850) .. (prnccmp);
\draw[eg] (rmirnamp) -- (rrnamp); \draw[eg] (prmirnamp) -- (rmirnamp); \draw[eg] (prmirnamp) -- (prrnamp);
\draw[eg] (mirnat) .. controls (5880,1050) and (5760,1000) .. (mirnamp);
\draw[eg] (rmirnat) .. controls (5850,1260) and (5780,1150) .. (rmirnamp);
\draw[ek] (rrnamp) -- (rnamp); \draw[ek] (rmirnamp) -- (mirnamp);
\draw[egr] (prrnamp) -- (rnamp);
\draw[egr] (prmirnamp) .. controls (5610,1080) and (5600,1010) .. (mirnamp);
\end{scope}
\end{tikzpicture}
\end{document}
